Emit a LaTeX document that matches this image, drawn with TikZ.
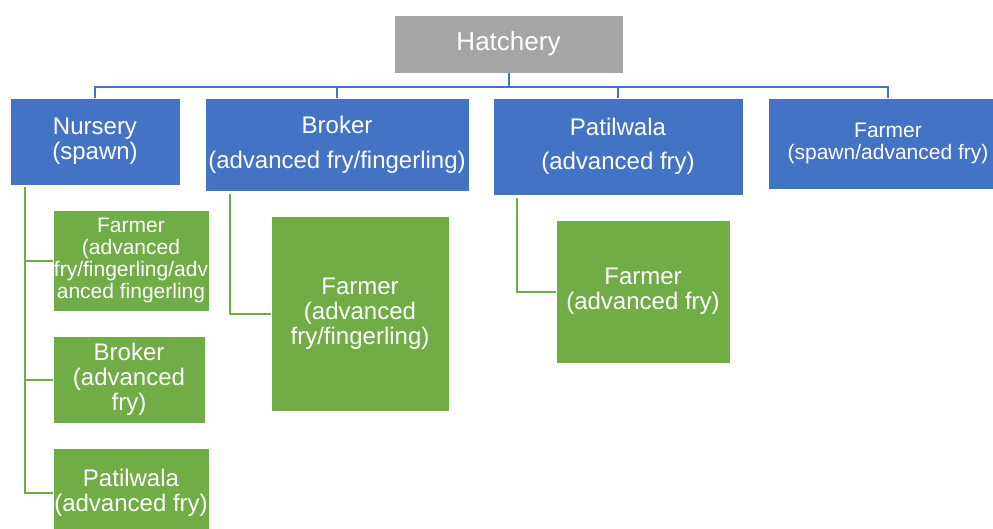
\documentclass[tikz,border=0pt]{standalone}
\usepackage{fontspec}
\setmainfont{Liberation Sans}
\definecolor{cblue}{HTML}{4472C4}
\definecolor{cgreen}{HTML}{70AD47}
\definecolor{cgray}{HTML}{A5A5A5}
\tikzset{
  box/.style={rectangle, inner sep=0pt, text=white, align=center, draw=white, line width=0.6pt},
  bluebox/.style={box, fill=cblue},
  greenbox/.style={box, fill=cgreen},
  graybox/.style={box, fill=cgray},
  blueline/.style={draw=cblue, line width=2pt},
  greenline/.style={draw=cgreen, line width=2pt},
  fa/.style={font=\fontsize{24}{25}\selectfont},
  fb/.style={font=\fontsize{21}{22}\selectfont},
}
\begin{document}
\begin{tikzpicture}[x=1pt,y=-1pt]
\useasboundingbox (0,0) rectangle (993,528);
\clip (0,0) rectangle (993,528);
\fill[white] (0,0) rectangle (993,528);
% top level
\node[graybox, minimum width=229pt, minimum height=58pt, font=\fontsize{26}{28}\selectfont] (hat) at (508.5,44) {Hatchery};
\node[bluebox, fa, minimum width=170pt, minimum height=87pt] (nur) at (95,141.5) {Nursery\\(spawn)};
\node[bluebox, fa, minimum width=264pt, minimum height=93pt] (bro) at (337,144.5) {Broker\\[10pt](advanced fry/fingerling)};
\node[bluebox, fa, minimum width=250pt, minimum height=97pt] (pat) at (618,146.5) {Patilwala\\[9pt](advanced fry)};
\node[bluebox, fb, minimum width=240pt, minimum height=91pt] (far) at (888,143.5) {Farmer\\(spawn/advanced fry)};
% bus
\coordinate (bus) at (508.5,87);
\draw[blueline] (hat.south) -- (bus);
\draw[blueline] (nur.north) -- (nur.north |- bus) -| (far.north);
\draw[blueline] (bro.north) -- (bro.north |- bus);
\draw[blueline] (pat.north) -- (pat.north |- bus);
% nursery children
\node[greenbox, fb, minimum width=156pt, minimum height=101pt] (nf) at (131,260.5) {Farmer\\(advanced\\fry/fingerling/adv\\anced fingerling};
\node[greenbox, fa, minimum width=152pt, minimum height=87pt] (nb) at (129,379.5) {Broker\\(advanced\\fry)};
\node[greenbox, fa, minimum width=156pt, minimum height=89pt] (np) at (131,492.5) {Patilwala\\(advanced fry)};
\coordinate (ntop) at ([xshift=15pt,yshift=-2pt]nur.south west);
\draw[greenline] (ntop) |- (nf.west);
\draw[greenline] (ntop) |- (nb.west);
\draw[greenline] (ntop) |- (np.west);
% broker child
\node[greenbox, fa, minimum width=178pt, minimum height=195pt] (bf) at (360,313.5) {Farmer\\(advanced\\fry/fingerling)};
\coordinate (btop) at ([xshift=25pt,yshift=-3pt]bro.south west);
\draw[greenline] (btop) |- (bf.west);
% patilwala child
\node[greenbox, fa, minimum width=174pt, minimum height=143pt] (pf) at (643,291.5) {Farmer\\(advanced fry)};
\coordinate (ptop) at ([xshift=24pt,yshift=-3pt]pat.south west);
\draw[greenline] (ptop) |- (pf.west);
\end{tikzpicture}
\end{document}
